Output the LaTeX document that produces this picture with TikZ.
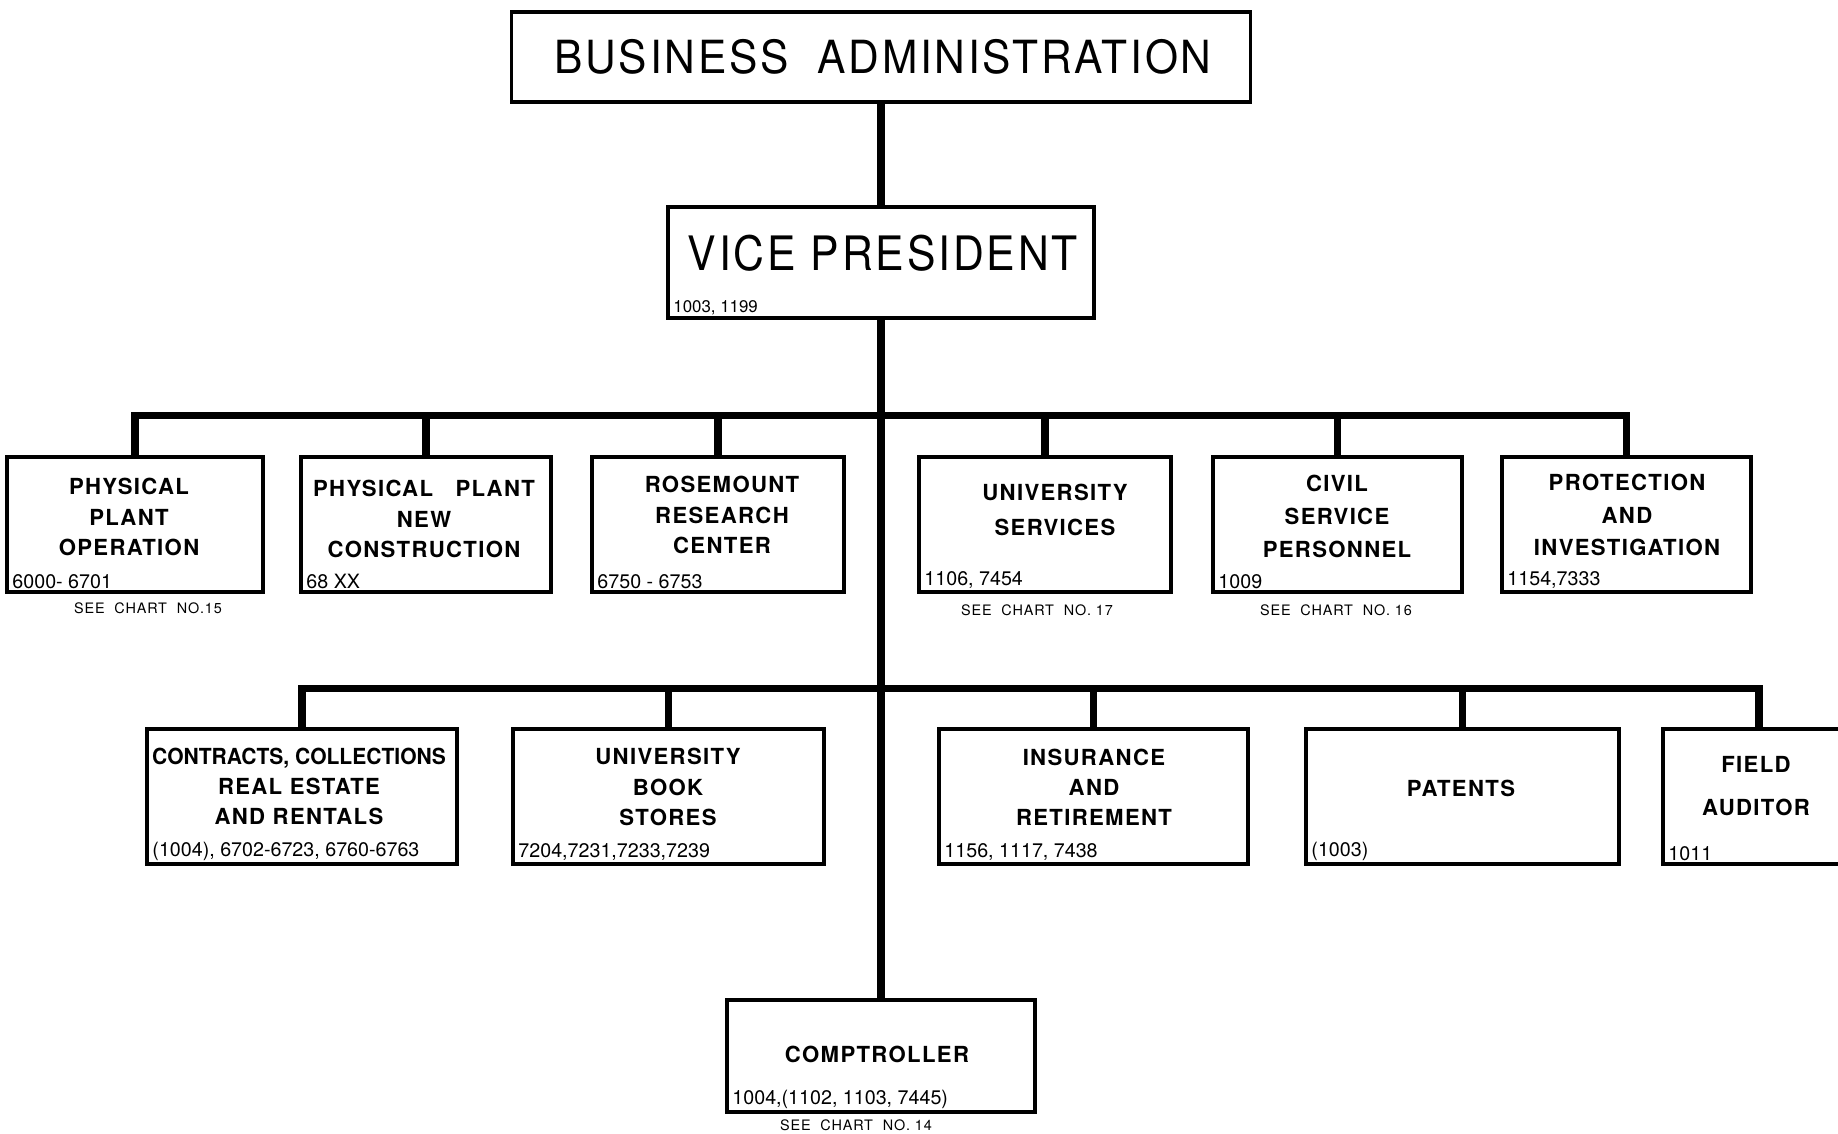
\documentclass[tikz,border=0pt]{standalone}
\usepackage{fontspec}
\setmainfont{TeX Gyre Heros}
\newfontfamily\wide[LetterSpace=6]{TeX Gyre Heros}
\newfontfamily\narrow[LetterSpace=6,FakeStretch=0.93]{TeX Gyre Heros}
\newcommand\titlefont{\narrow\fontsize{13}{15}\selectfont}
\newcommand\labfont{\wide\bfseries\fontsize{6.3}{8.6}\selectfont}
\newcommand\codefont{\fontsize{5.6}{6}\selectfont}
\newcommand\seefont{\wide\fontsize{4.1}{5}\selectfont}
\begin{document}
\begin{tikzpicture}[line join=miter,
	box/.style={draw,line width=0.9pt,inner sep=0pt},
	dept/.style={box,minimum height=1.35cm},
	lab/.style={align=center,font=\labfont,inner sep=0pt},
	code/.style={anchor=south west,inner ysep=1.2pt,inner xsep=1.8pt,font=\codefont},
	see/.style={font=\seefont,inner sep=0pt},
	link/.style={line width=2pt}]
	\useasboundingbox (0,0) rectangle (18.38,-11.33);
	%Top
	\node[box,line width=1.1pt,minimum width=7.39cm,minimum height=0.9cm] (ba) at (8.81,-0.57) {};
	\node[font=\titlefont] (ba-t) at (8.83,-0.57) {BUSINESS\ \ ADMINISTRATION};
	\node[box,minimum width=4.26cm,minimum height=1.11cm] (vp) at (8.81,-2.625) {};
	\node[font=\narrow\addfontfeature{FakeStretch=0.9}\fontsize{13.5}{15}\selectfont] (vp-t) at (8.83,-2.53) {VICE PRESIDENT};
	\node[code,font=\fontsize{4.8}{5}\selectfont] (vp-c) at (vp.south west) {1003, 1199};
	%Comptroller
	\node[box,minimum width=3.08cm,minimum height=1.12cm] (comp) at (8.81,-10.56) {};
	\node[lab] (comp-t) at (8.77,-10.54) {COMPTROLLER};
	\node[code] (comp-c) at (comp.south west) {1004,(1102, 1103, 7445)};
	\node[see] (comp-s) at (8.56,-11.25) {SEE\ \ CHART\ \ NO. 14};
	%Row 1
	\node[dept,minimum width=2.56cm] (ppo) at (1.35,-5.245) {};
	\node[dept,minimum width=2.50cm] (ppn) at (4.26,-5.245) {};
	\node[dept,minimum width=2.52cm] (rrc) at (7.18,-5.245) {};
	\node[dept,minimum width=2.52cm] (us) at (10.45,-5.245) {};
	\node[dept,minimum width=2.49cm] (csp) at (13.375,-5.245) {};
	\node[dept,minimum width=2.49cm] (pai) at (16.265,-5.245) {};
	\node[lab] (ppo-t) at (1.29,-5.17) {PHYSICAL\\PLANT\\OPERATION};
	\node[lab] (ppn-t) at (4.24,-5.19) {PHYSICAL\ \ \ PLANT\\NEW\\CONSTRUCTION};
	\node[lab] (rrc-t) at (7.22,-5.15) {ROSEMOUNT\\RESEARCH\\CENTER};
	\node[lab,font=\labfont\fontsize{6.3}{10}\selectfont] (us-t) at (10.55,-5.10) {UNIVERSITY\\SERVICES};
	\node[lab,font=\labfont\fontsize{6.3}{9.4}\selectfont] (csp-t) at (13.37,-5.16) {CIVIL\\SERVICE\\PERSONNEL};
	\node[lab,font=\labfont\fontsize{6.3}{9.2}\selectfont] (pai-t) at (16.27,-5.15) {PROTECTION\\AND\\INVESTIGATION};
	\node[code] (ppo-c) at (ppo.south west) {6000- 6701};
	\node[code] (ppn-c) at (ppn.south west) {68 XX};
	\node[code] (rrc-c) at (rrc.south west) {6750 - 6753};
	\node[code] (us-c) at (us.south west) {1106, 7454};
	\node[code] (csp-c) at (csp.south west) {1009};
	\node[code] (pai-c) at (pai.south west) {1154,7333};
	\node[see] (ppo-s) at (1.48,-6.08) {SEE\ \ CHART\ \ NO.15};
	\node[see] (us-s) at (10.37,-6.10) {SEE\ \ CHART\ \ NO. 17};
	\node[see] (csp-s) at (13.36,-6.10) {SEE\ \ CHART\ \ NO. 16};
	%Row 2
	\node[dept,minimum width=3.10cm] (ccr) at (3.02,-7.965) {};
	\node[dept,minimum width=3.11cm] (ubs) at (6.685,-7.965) {};
	\node[dept,minimum width=3.09cm] (iar) at (10.935,-7.965) {};
	\node[dept,minimum width=3.13cm] (pat) at (14.625,-7.965) {};
	\node[dept,minimum width=1.92cm] (fa) at (17.59,-7.965) {};
	\node[lab] (ccr-t) at (2.99,-7.865) {{\fontspec[FakeStretch=0.95]{TeX Gyre Heros Bold}CONTRACTS, COLLECTIONS}\\REAL ESTATE\\AND RENTALS};
	\node[lab] (ubs-t) at (6.68,-7.87) {UNIVERSITY\\BOOK\\STORES};
	\node[lab] (iar-t) at (10.94,-7.87) {INSURANCE\\AND\\RETIREMENT};
	\node[lab] (pat-t) at (14.61,-7.88) {PATENTS};
	\node[lab,font=\labfont\fontsize{6.3}{12.3}\selectfont] (fa-t) at (17.56,-7.86) {FIELD\\AUDITOR};
	\node[code] (ccr-c) at (ccr.south west) {(1004), 6702-6723, 6760-6763};
	\node[code] (ubs-c) at (ubs.south west) {7204,7231,7233,7239};
	\node[code] (iar-c) at (iar.south west) {1156, 1117, 7438};
	\node[code] (pat-c) at (pat.south west) {(1003)};
	\node[code] (fa-c) at (fa.south west) {1011};
	%Lines
	\coordinate (j1) at (8.81,-4.15);
	\coordinate (j2) at (8.81,-6.88);
	\draw[link] (ba) -- (vp);
	\draw[link] (vp) -- (comp);
	\foreach \n in {ppo,ppn,rrc,us,csp,pai}
		\draw[link] (j1) -| (\n);
	\foreach \n in {ccr,ubs,iar,pat,fa}
		\draw[link] (j2) -| (\n);
\end{tikzpicture}
\end{document}
